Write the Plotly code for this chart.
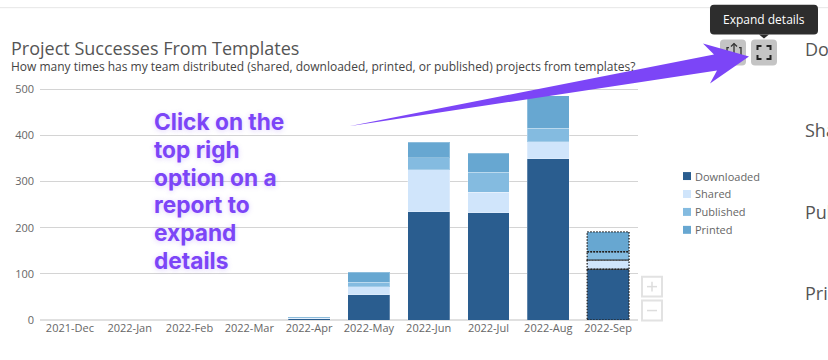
import plotly.graph_objects as go
from itertools import accumulate

months = ["2021-Dec", "2022-Jan", "2022-Feb", "2022-Mar", "2022-Apr", "2022-May",
          "2022-Jun", "2022-Jul", "2022-Aug", "2022-Sep"]
downloaded = [0, 0, 0, 0, 3, 55, 235, 232, 350, 110]
shared = [0, 0, 0, 0, 1, 17, 91, 45, 37, 20]
published = [0, 0, 0, 0, 1, 10, 26, 43, 29, 18]
printed = [0, 0, 0, 0, 1, 21, 33, 42, 70, 43]
series_names = ["Downloaded", "Shared", "Published", "Printed"]
series_colors = ["#2a5d8f", "#d0e5fb", "#84bbe0", "#67a7d1"]
y_ticks = [0, 100, 200, 300, 400, 500]
callout_lines = ["Click on the", "top righ", "option on a", "report to", "expand", "details"]
side_labels = ["Do", "Sha", "Pub", "Pri"]

W, H = 828, 360
Y_MAX = 503
L, R, B = 40, 638, 320.5
T = B - 231.5 * Y_MAX / 500
FONT = "Open Sans"
PURPLE = "#7c45f7"


def px(x, y):
    return (x - L) / (R - L), (B - y) / (B - T)


def path(points, close=True):
    s = ""
    for i, (x, y) in enumerate(points):
        a, b = px(x, y)
        s += ("M" if i == 0 else "L") + f"{a:.5f},{b:.5f}"
    return s + ("Z" if close else "")


def pshape(points, fill=None, line=None, width=0, close=True, **kw):
    return dict(type="path", xref="paper", yref="paper", path=path(points, close),
                fillcolor=fill if fill else "rgba(0,0,0,0)",
                line=dict(color=line if line else "rgba(0,0,0,0)", width=width), **kw)


def rrect(x0, y0, x1, y1, r, fill=None, line=None, width=0):
    ax, ay = px(x0, y0)
    bx, by = px(x1, y1)
    rx = r / (R - L)
    ry = r / (B - T)
    d = (f"M{ax+rx:.5f},{ay:.5f}L{bx-rx:.5f},{ay:.5f}Q{bx:.5f},{ay:.5f} {bx:.5f},{ay-ry:.5f}"
         f"L{bx:.5f},{by+ry:.5f}Q{bx:.5f},{by:.5f} {bx-rx:.5f},{by:.5f}"
         f"L{ax+rx:.5f},{by:.5f}Q{ax:.5f},{by:.5f} {ax:.5f},{by+ry:.5f}"
         f"L{ax:.5f},{ay-ry:.5f}Q{ax:.5f},{ay:.5f} {ax+rx:.5f},{ay:.5f}Z")
    return dict(type="path", xref="paper", yref="paper", path=d,
                fillcolor=fill if fill else "rgba(0,0,0,0)",
                line=dict(color=line if line else "rgba(0,0,0,0)", width=width))


def label(x, y, text, size, color, family=FONT, anchor="left", **font):
    a, b = px(x, y)
    return dict(x=a, y=b, xref="paper", yref="paper", text=text, showarrow=False,
                xanchor=anchor, yanchor="middle", align=anchor, borderpad=0, borderwidth=0,
                font=dict(family=family, size=size, color=color, **font))


fig = go.Figure()
all_series = [downloaded, shared, published, printed]
for name, color, values in zip(series_names, series_colors, all_series):
    fig.add_bar(x=months, y=values, name=name, width=0.7, showlegend=False,
                marker=dict(color=color, line=dict(color="rgba(255,255,255,0.25)", width=1)))

shapes = []
# Dotted selection outline on the last month
sep = [s[-1] for s in all_series]
tops = list(accumulate(sep))
for low, high in zip([0] + tops[:-1], tops):
    shapes.append(dict(type="rect", xref="x", yref="y", x0=9 - 0.35, x1=9 + 0.35, y0=low, y1=high,
                       line=dict(color="#222222", width=1.3, dash="1.5px,1.5px")))

# Top divider
shapes.append(pshape([(0, 7), (828, 7)], line="#e6e6e6", width=1, close=False))

# Toolbar
shapes.append(rrect(720, 39, 746, 65, 4, fill="#c4c4c4"))
shapes.append(rrect(751, 39, 777, 65, 4, fill="#c4c4c4"))
shapes.append(pshape([(729, 47), (727, 47), (727, 58), (741, 58), (741, 47), (739, 47)],
                     line="#333333", width=1.3, close=False))
shapes.append(pshape([(734, 54), (734, 43)], line="#333333", width=1.3, close=False))
shapes.append(pshape([(731, 46), (734, 43), (737, 46)], line="#333333", width=1.3, close=False))
for sx, sy in [(-1, -1), (1, -1), (1, 1), (-1, 1)]:
    cx, cy = 764 + sx * 6.5, 52 + sy * 6.5
    shapes.append(pshape([(cx - sx * 4, cy), (cx, cy), (cx, cy - sy * 4)],
                         line="#222222", width=2, close=False))

# Tooltip
shapes.append(rrect(710, 4, 818, 34, 4, fill="#2d2d2d"))
shapes.append(pshape([(759, 34), (764, 38), (769, 34)], fill="#2d2d2d"))

# Arrow
shapes.append(pshape([(349, 126), (714, 54), (703, 43), (749, 56), (710, 83), (717, 70)], fill=PURPLE))

# Zoom control
shapes.append(pshape([(642, 277), (662, 277), (662, 297), (642, 297)], fill="white", line="#e2e2e2", width=2))
shapes.append(pshape([(642, 301), (662, 301), (662, 321), (642, 321)], fill="white", line="#e2e2e2", width=2))
shapes.append(pshape([(647, 287), (657, 287)], line="#dddddd", width=1.5, close=False))
shapes.append(pshape([(652, 282), (652, 292)], line="#dddddd", width=1.5, close=False))
shapes.append(pshape([(647, 311), (657, 311)], line="#dddddd", width=1.5, close=False))

# Legend swatches
LEG_Y = [176, 194, 212, 230]
for ly, color in zip(LEG_Y, series_colors):
    shapes.append(pshape([(683, ly - 4), (691, ly - 4), (691, ly + 4), (683, ly + 4)], fill=color))

anns = [
    label(11, 47, "Project Successes From Templates", 18, "#555555"),
    label(11, 66, "How many times has my team distributed (shared, downloaded, printed, or published) projects from templates?",
          12, "#444444"),
    label(723, 19, "Expand details", 12, "#ffffff"),
]
for ly, name in zip(LEG_Y, series_names):
    anns.append(label(695, ly, name, 11, "#666666"))
for sy, txt in zip([48, 130, 212, 293], side_labels):
    anns.append(label(805, sy, txt, 18, "#555555"))
for cy, txt in zip([121, 149, 177, 205, 233, 261], callout_lines):
    anns.append(label(154, cy, txt, 22.7, PURPLE, family="Inter", weight=700,
                      shadow="0px 1px 5px rgba(124,69,247,0.25)"))

fig.update_layout(
    width=W, height=H, barmode="stack", bargap=0.3,
    margin=dict(l=L, r=W - R, t=T, b=H - B, pad=0),
    plot_bgcolor="white", paper_bgcolor="white",
    font=dict(family=FONT, size=11, color="#666666"),
    shapes=shapes, annotations=anns, showlegend=False,
    xaxis=dict(type="category", categoryorder="array", categoryarray=months, showgrid=False,
               showline=False, ticks="", tickfont=dict(size=11, color="#666666"), range=[-0.5, 9.5]),
    yaxis=dict(range=[0, Y_MAX], tickvals=y_ticks, showgrid=True, gridcolor="#d4d4d4", gridwidth=1,
               zeroline=True, zerolinecolor="#e0e0e0", zerolinewidth=2, showline=False, ticks="",
               tickfont=dict(size=11, color="#666666"), ticklabelstandoff=5),
)

fig.write_html("out.html", config=dict(displayModeBar=False),
               post_script="document.body.style.margin='0';document.body.style.overflow='hidden';")
